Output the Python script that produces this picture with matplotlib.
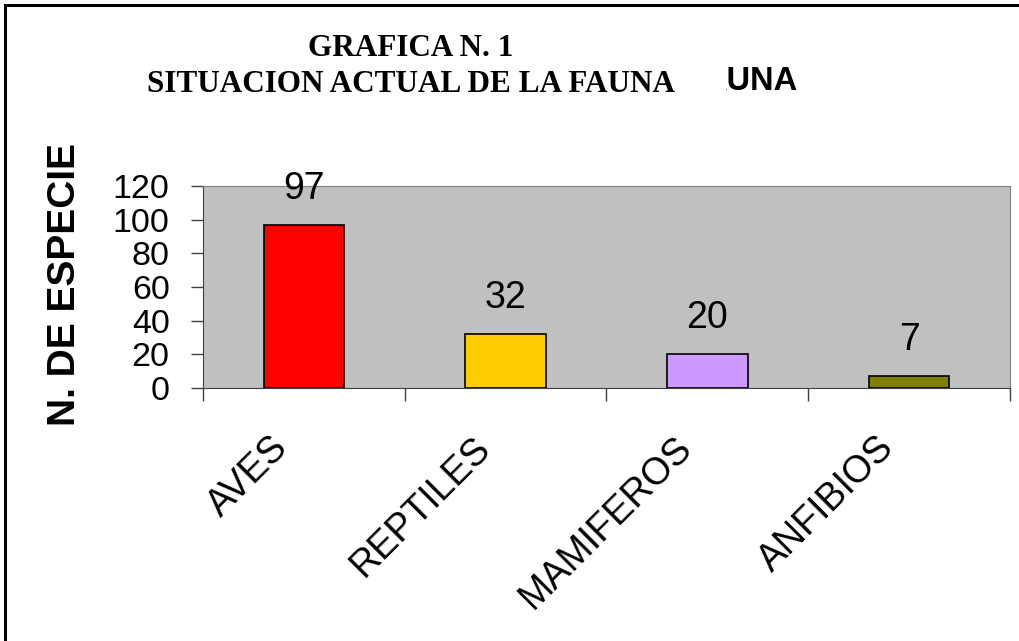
import numpy as np
import matplotlib
matplotlib.use('Agg')
import matplotlib.pyplot as plt
from matplotlib.lines import Line2D
from matplotlib.patches import Rectangle

categorias = ['AVES', 'REPTILES', 'MAMIFEROS', 'ANFIBIOS']
especies = [97, 32, 20, 7]
colores = ['#FF0000', '#FFCC00', '#CC99FF', '#808000']
yticks = [0, 20, 40, 60, 80, 100, 120]

plt.rcParams['font.family'] = ['Liberation Sans', 'DejaVu Sans']

fig = plt.figure(figsize=(10.2, 6.41), dpi=100)
ax = fig.add_axes([203/1020, 1-388/641, (1010-203)/1020, (388-186)/641])
ax.set_facecolor('#C0C0C0')

x = np.arange(len(categorias))
ax.bar(x, especies, width=0.4, color=colores, edgecolor='black', linewidth=1.2, zorder=3)
for xi, v in zip(x, especies):
    ax.annotate(str(v), (xi, v), xytext=(0, 26), textcoords='offset points',
                ha='center', va='center', fontsize=27, clip_on=False)

ax.set_xlim(-0.5, len(categorias)-0.5)
ax.set_ylim(0, 120)
ax.set_yticks(yticks)
ax.set_yticklabels([str(t) for t in yticks], fontsize=24.5)
ax.tick_params(axis='y', length=9, width=1, color='#404040', pad=15)

# ticks between categories
ax.set_xticks(np.arange(-0.5, len(categorias), 1.0))
ax.set_xticklabels([])
ax.tick_params(axis='x', length=9, width=1, color='#404040')

# rotated category names
for xi, cat in zip(x, categorias):
    ax.annotate(cat, xy=(xi, 0), xycoords=('data', 'axes fraction'),
                xytext=(-15, -39), textcoords='offset points', rotation=45,
                ha='right', va='center', rotation_mode='anchor', fontsize=27)

for s in ['top', 'right']:
    ax.spines[s].set_color('#808080')
for s in ['left', 'bottom']:
    ax.spines[s].set_color('#404040')

fig.text(65/1020, 1-285/641, 'N. DE ESPECIE', rotation=90, ha='center', va='center',
         fontsize=28, fontweight='bold')

fig.text(411/1020, 1-48/641, 'GRAFICA N. 1', ha='center', va='center', fontsize=22.5,
         fontweight='bold', family='Liberation Serif')
fig.text(411/1020, 1-84/641, 'SITUACION ACTUAL DE LA FAUNA', ha='center', va='center',
         fontsize=22.5, fontweight='bold', family='Liberation Serif')
# leftover of an overlapping title, partly hidden
fig.text(797/1020, 1-82/641, 'AUNA', ha='right', va='center', fontsize=23.5, fontweight='bold')
fig.add_artist(Rectangle((690/1020, 1-100/641), (726-690)/1020, 40/641, facecolor='white',
                         edgecolor='none', transform=fig.transFigure, zorder=10))

# frame on left and top edges
fig.add_artist(Line2D([5/1020, 5/1020], [0, 1-5/641], color='black', lw=2.2, transform=fig.transFigure))
fig.add_artist(Line2D([5/1020, 1], [1-5/641, 1-5/641], color='black', lw=2.2, transform=fig.transFigure))

fig.savefig('out.png', dpi=100)
